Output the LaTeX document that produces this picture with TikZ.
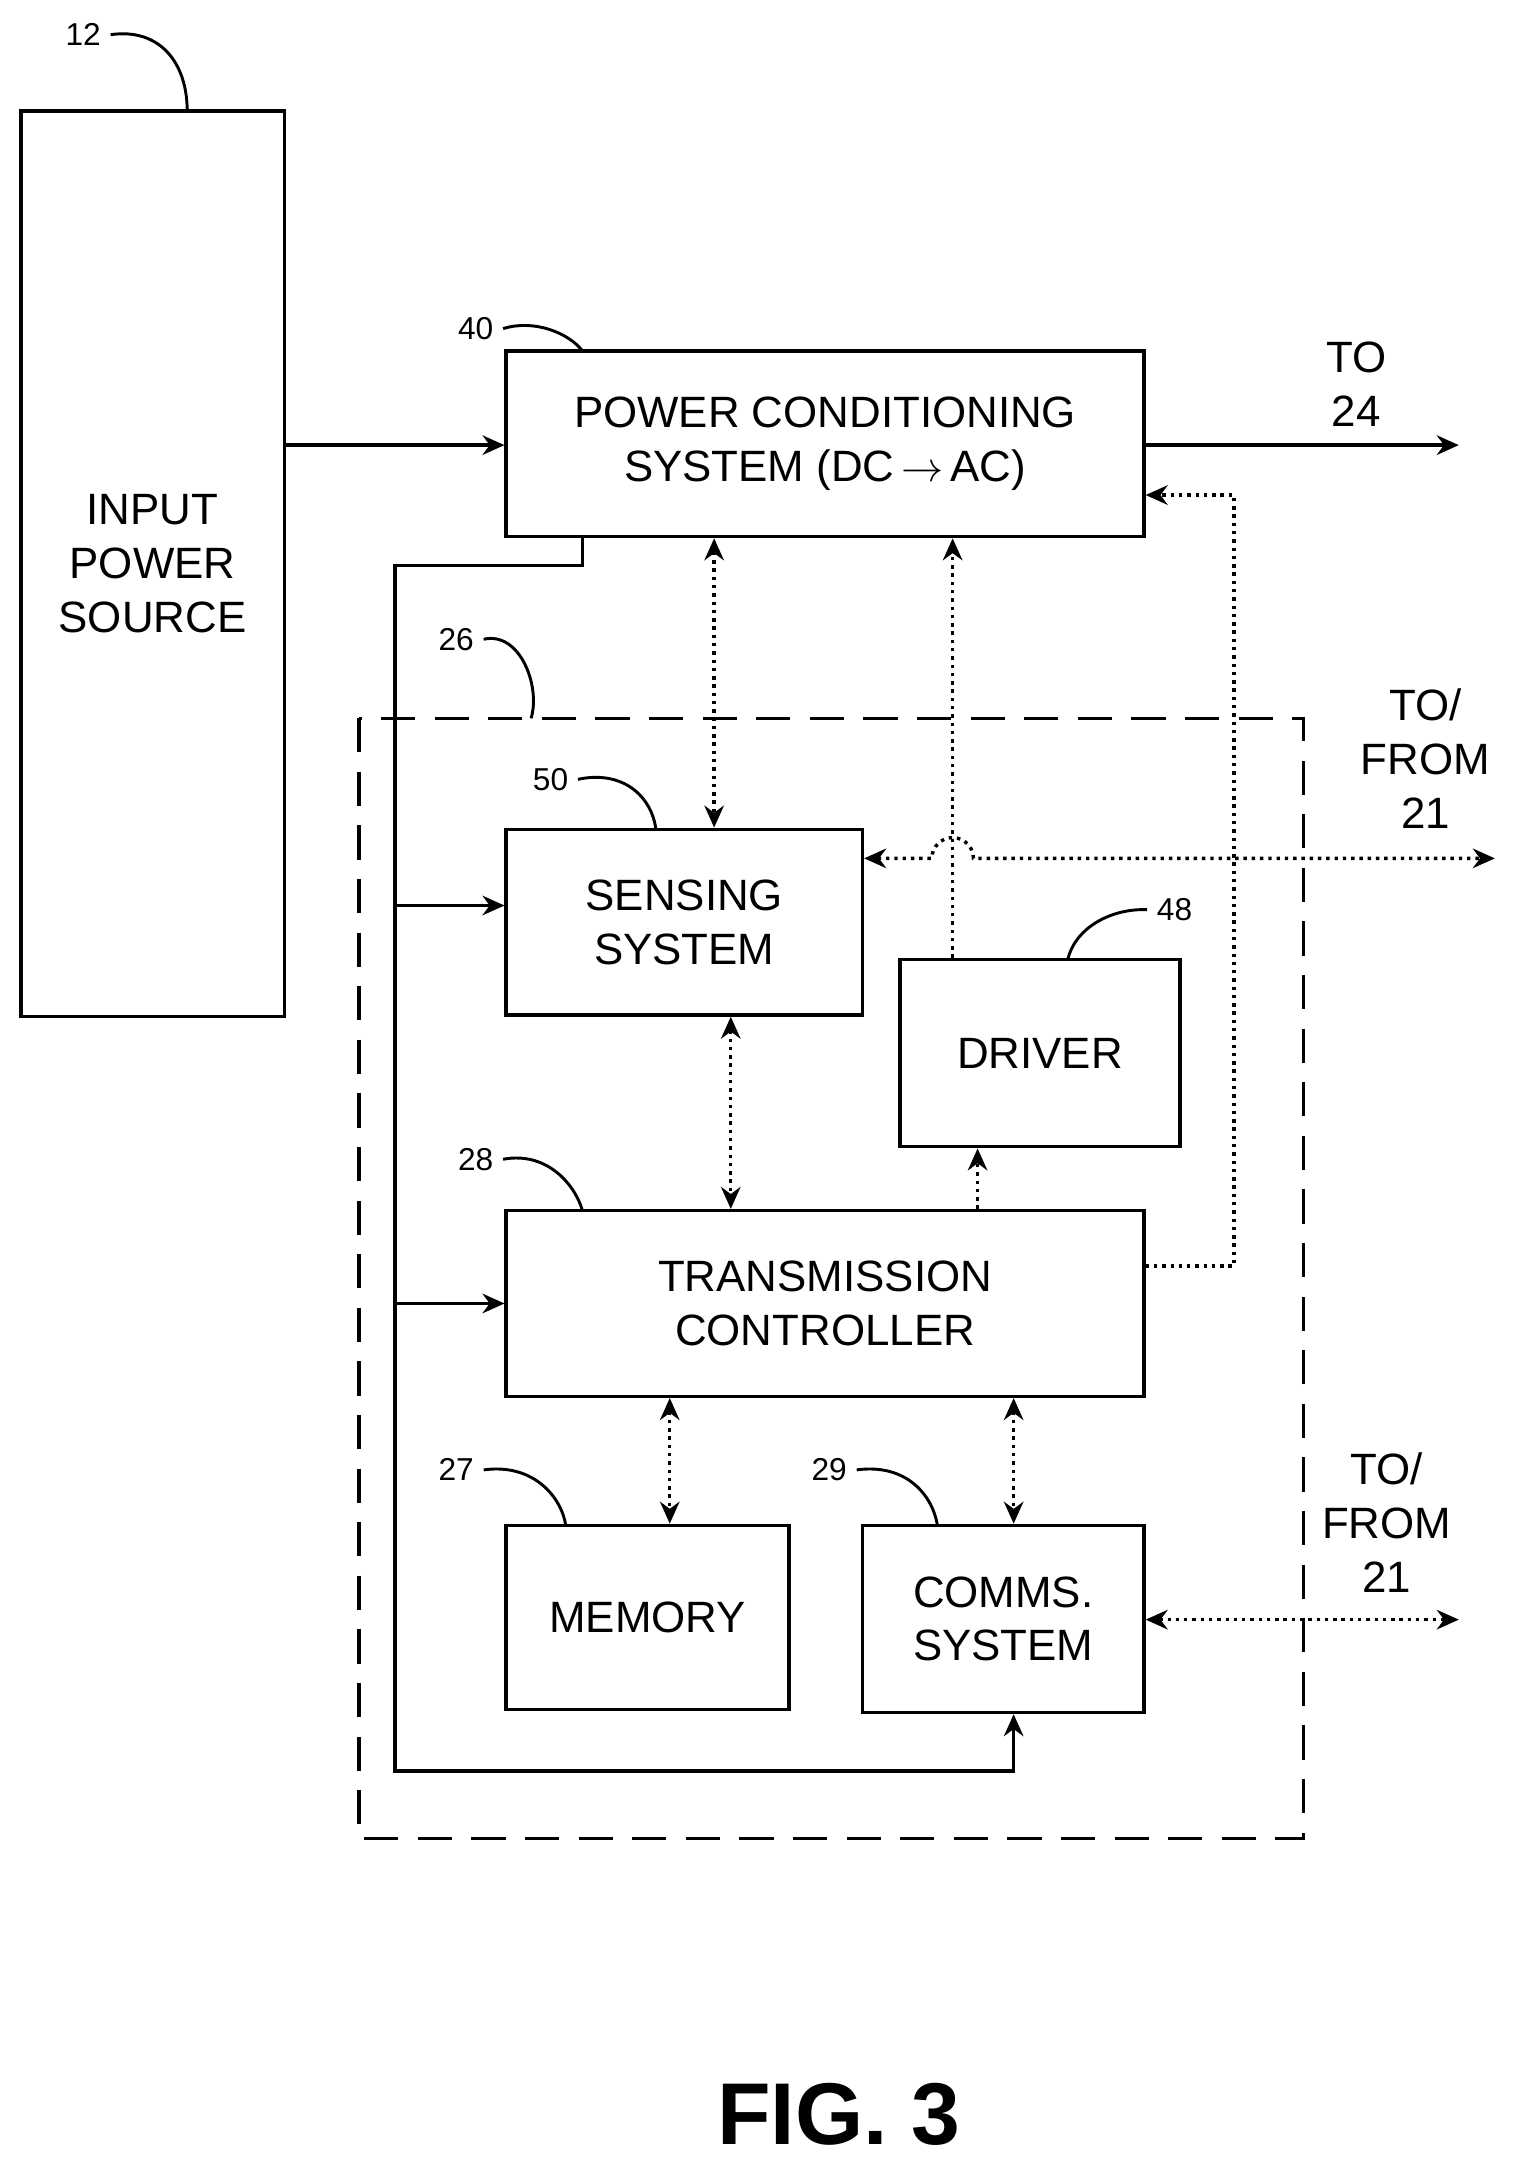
\documentclass[tikz,border=0pt]{standalone}
\usepackage{fontspec}
\setmainfont{Liberation Sans}
\usetikzlibrary{arrows.meta}
\begin{document}
\begin{tikzpicture}[x=0.02cm,y=-0.02cm,line width=1.4pt,
 box/.style={draw,line width=1.4pt,align=center,font=\fontsize{18}{22}\selectfont},
 lbl/.style={font=\fontsize{18}{22}\selectfont,align=center},
 ref/.style={font=\fontsize{13}{15}\selectfont},
 arr/.style={-{Stealth[length=9pt,width=8pt]}},
 dd/.style={dotted,line width=1.4pt,{Stealth[length=9pt,width=8pt]}-{Stealth[length=9pt,width=8pt]}},
 da/.style={dotted,line width=1.4pt,-{Stealth[length=9pt,width=8pt]}},
 lead/.style={line width=1.2pt}]
\useasboundingbox (0,0) rectangle (1100,1575);
\node[box,minimum width=3.8cm,minimum height=13.06cm] (ips) at (110,406.5) {INPUT\\POWER\\SOURCE};
\node[box,minimum width=9.2cm,minimum height=2.68cm] (pcs) at (595,320) {POWER CONDITIONING\\SYSTEM (DC$\,\mathbf{\rightarrow}\,$AC)};
\node[box,minimum width=5.14cm,minimum height=2.68cm] (sen) at (493.5,665) {SENSING\\SYSTEM};
\node[box,minimum width=4.04cm,minimum height=2.7cm] (drv) at (750,759.5) {DRIVER};
\node[box,minimum width=9.2cm,minimum height=2.68cm] (tc) at (595,940) {TRANSMISSION\\CONTROLLER};
\node[box,minimum width=4.08cm,minimum height=2.66cm] (mem) at (467,1166.5) {MEMORY};
\node[box,minimum width=4.06cm,minimum height=2.7cm] (com) at (723.5,1167.5) {COMMS.\\SYSTEM};
\draw[dashed,line width=1.4pt,dash pattern=on 14pt off 8pt] (259,518) rectangle (940,1326);
\coordinate (o24) at (1052,321);
\coordinate (o21a) at (1078,619);
\coordinate (o21b) at (1052,1168);
\draw[arr] (ips.east |- 0,321) -- (pcs.west |- 0,321);
\draw[arr] (pcs.east |- 0,321) -- (o24);
\node[lbl] (t24) at (978,277) {TO\\24};
\node[lbl] (t21a) at (1028,547) {TO/\\FROM\\21};
\node[lbl] (t21b) at (1000,1098) {TO/\\FROM\\21};
% power rail
\coordinate (r0) at (285,408);
\coordinate (r1) at (285,1277);
\draw[arr] (420,387) -- (420,408) -- (r0) -- (r1) -- (731,1277) -- (com.south -| 731,0);
\draw[arr] (285,653) -- (sen.west |- 0,653);
\draw[arr] (285,940) -- (tc.west |- 0,940);
% dotted
\draw[dd] (pcs.south -| 515,0) -- (sen.north -| 515,0);
\draw[da] (drv.north -| 687,0) -- (pcs.south -| 687,0);
\draw[da] (tc.east |- 0,913) -- (890,913) -- (890,357) -- (pcs.east |- 0,357);
\draw[dd] (sen.east |- 0,619) -- (672,619) arc[start angle=180,end angle=0,radius=0.3cm] -- (o21a);
\draw[dd] (sen.south -| 527,0) -- (tc.north -| 527,0);
\draw[da] (tc.north -| 705,0) -- (drv.south -| 705,0);
\draw[dd] (tc.south -| 483,0) -- (mem.north -| 483,0);
\draw[dd] (tc.south -| 731,0) -- (com.north -| 731,0);
\draw[dd] (com.east |- 0,1168) -- (o21b);
% refs
\node[ref] (n12) at (60,25) {12};
\draw[lead] (n12.east) .. controls (115,20) and (135,45) .. (135,80);
\node[ref] (n40) at (343,237) {40};
\draw[lead] (n40.east) .. controls (385,230) and (410,240) .. (420,253);
\node[ref] (n26) at (329,461) {26};
\draw[lead] (n26.east) .. controls (375,455) and (390,495) .. (383,518);
\node[ref] (n50) at (397,562) {50};
\draw[lead] (n50.east) .. controls (450,555) and (470,575) .. (473,598);
\node[ref] (n48) at (847,656) {48};
\draw[lead] (n48.west) .. controls (800,655) and (775,670) .. (770,692);
\node[ref] (n28) at (343,836) {28};
\draw[lead] (n28.east) .. controls (395,830) and (415,855) .. (420,873);
\node[ref] (n27) at (329,1060) {27};
\draw[lead] (n27.east) .. controls (385,1055) and (405,1080) .. (408,1100);
\node[ref] (n29) at (598,1060) {29};
\draw[lead] (n29.east) .. controls (655,1055) and (673,1080) .. (676,1100);
\node[font=\fontsize{36}{40}\selectfont\bfseries] (fig) at (605,1525) {FIG. 3};
\end{tikzpicture}
\end{document}
